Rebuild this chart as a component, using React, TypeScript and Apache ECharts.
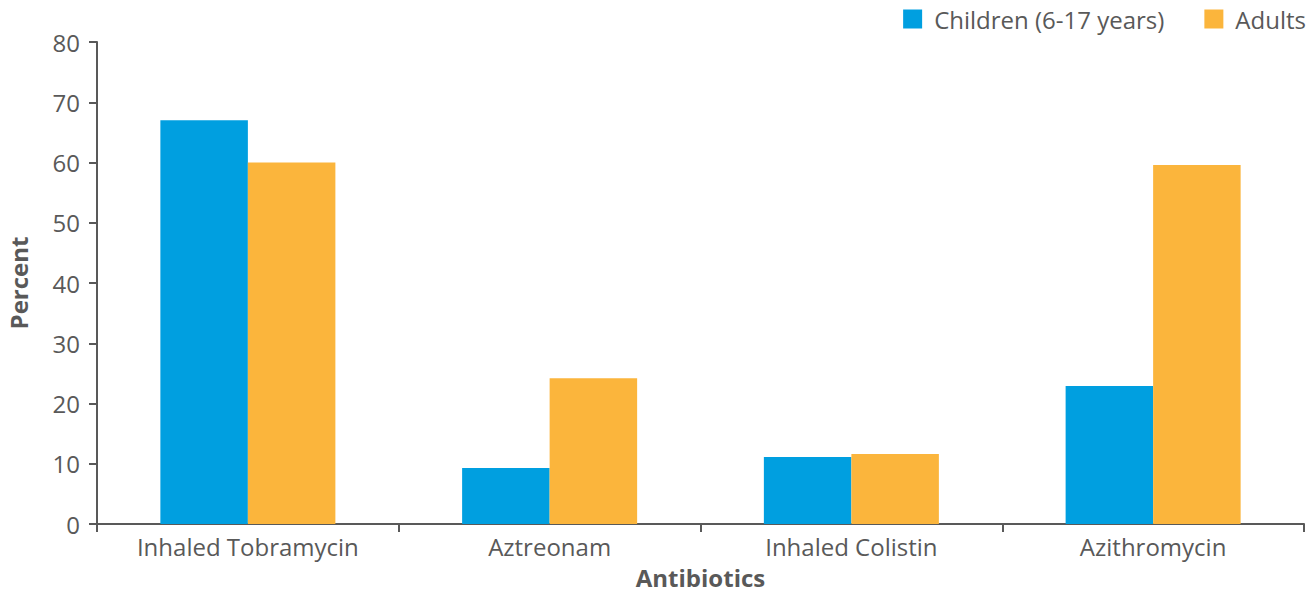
import React, { useEffect, useRef } from "react";
import * as echarts from "echarts";

const categories = ["Inhaled Tobramycin", "Aztreonam", "Inhaled Colistin", "Azithromycin"];
const children = [67, 9.3, 11.1, 22.9];
const adults = [60, 24.2, 11.6, 59.6];
const seriesNames = ["Children (6-17 years)", "Adults"];

const FONT = "'Open Sans', sans-serif";
const TEXT = "#595959";
const FS = 24;

export default function App() {
  const ref = useRef<HTMLDivElement>(null);
  useEffect(() => {
    const chart = echarts.init(ref.current!, null, { renderer: "svg" });
    chart.setOption({
      animation: false,
      textStyle: { fontFamily: FONT, color: TEXT },
      legend: {
        right: 5,
        top: 2,
        itemWidth: 19,
        itemHeight: 19,
        itemGap: 40,
        icon: "rect",
        textStyle: { fontFamily: FONT, fontSize: FS, color: TEXT, padding: [0, 0, 0, 7] },
        data: seriesNames,
      },
      grid: { left: 97, right: 12, top: 42, bottom: 70, containLabel: false, outerBoundsMode: "none" },
      xAxis: {
        type: "category",
        data: categories,
        name: "Antibiotics",
        nameLocation: "middle",
        nameGap: 41,
        nameTextStyle: { fontFamily: FONT, fontSize: FS, fontWeight: "bold", color: TEXT },
        axisLine: { lineStyle: { color: TEXT, width: 2 } },
        axisTick: { show: true, length: 8, lineStyle: { color: TEXT, width: 2 } },
        axisLabel: { fontFamily: FONT, fontSize: FS, color: TEXT, margin: 10 },
      },
      yAxis: {
        type: "value",
        min: 0,
        max: 80,
        interval: 10,
        name: "Percent",
        nameLocation: "middle",
        nameGap: 67,
        nameTextStyle: { fontFamily: FONT, fontSize: FS, fontWeight: "bold", color: TEXT },
        axisLine: { show: true, lineStyle: { color: TEXT, width: 2 } },
        axisTick: { show: true, length: 8, lineStyle: { color: TEXT, width: 2 } },
        axisLabel: { fontFamily: FONT, fontSize: FS, color: TEXT, margin: 17 },
        splitLine: { show: false },
      },
      series: [
        {
          name: seriesNames[0],
          type: "bar",
          data: children,
          itemStyle: { color: "#009FE0" },
          barGap: "0%",
          barCategoryGap: "42%",
        },
        {
          name: seriesNames[1],
          type: "bar",
          data: adults,
          itemStyle: { color: "#FBB53C" },
          barGap: "0%",
          barCategoryGap: "42%",
        },
      ],
    });
    return () => chart.dispose();
  }, []);
  return <div ref={ref} style={{ width: 1316, height: 594, position: "absolute", left: 0, top: 0 }} />;
}
